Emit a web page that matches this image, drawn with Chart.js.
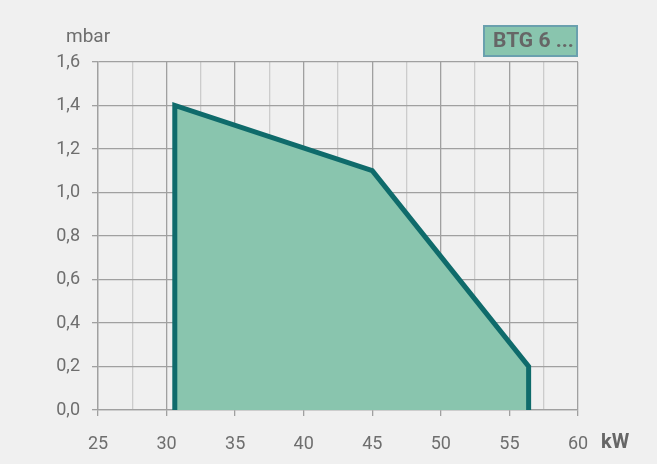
<!DOCTYPE html>
<html>
<head>
<meta charset="utf-8">
<script src="https://cdn.jsdelivr.net/npm/chart.js@4/dist/chart.umd.min.js"></script>
<style>
  html, body { margin: 0; padding: 0; background: #f0f0f0; }
  #wrap { width: 657px; height: 464px; position: relative; }
</style>
</head>
<body>
<div id="wrap"><canvas id="myChart" width="657" height="464"></canvas></div>
<script>
// Arbeitsfeld (kW / mbar)
const powerKW = [30.6, 30.6, 45, 56.4, 56.4];
const pressureMbar = [0, 1.4, 1.1, 0.2, 0];
const seriesName = "BTG 6 ...";
const xTicks = [25, 30, 35, 40, 45, 50, 55, 60];
const yTicks = [0, 0.2, 0.4, 0.6, 0.8, 1.0, 1.2, 1.4, 1.6];
const xUnit = "kW";
const yUnit = "mbar";

const textColor = "#6e6e6e";
const lineColor = "#0f6b6b";
const fillColor = "#89c5ae";

const isMajor = (v, step) => Math.abs(v / step - Math.round(v / step)) < 1e-6;

// Beschriftungen + Legendenbox
const extras = {
  id: "extras",
  afterDraw(chart) {
    const c = chart.ctx;
    c.save();
    c.fillStyle = textColor;
    c.font = "19px Roboto";
    c.textBaseline = "alphabetic";
    c.fillText(yUnit, 66, 42);
    c.font = "bold 20px Roboto";
    c.fillStyle = "#666";
    c.fillText(xUnit, 601, 448);

    c.fillStyle = fillColor;
    c.fillRect(483, 25, 95, 32);
    c.strokeStyle = "#6aa0ae";
    c.lineWidth = 2;
    c.strokeRect(484, 26, 93, 30);
    c.fillStyle = "#666";
    c.font = "bold 21px Roboto";
    c.textBaseline = "middle";
    c.fillText(seriesName, 493, 42);
    c.restore();
  }
};

new Chart(document.getElementById("myChart"), {
  type: "line",
  data: {
    datasets: [{
      label: seriesName,
      data: powerKW.map((x, i) => ({ x: x, y: pressureMbar[i] })),
      borderColor: lineColor,
      backgroundColor: fillColor,
      borderWidth: 5,
      fill: "origin",
      pointRadius: 0,
      tension: 0,
      borderCapStyle: "round",
      borderJoinStyle: "miter"
    }]
  },
  options: {
    responsive: false,
    animation: false,
    layout: { padding: { left: 0, top: 62, right: 79, bottom: 0 } },
    plugins: { legend: { display: false }, tooltip: { enabled: false } },
    scales: {
      x: {
        type: "linear",
        min: xTicks[0],
        max: xTicks[xTicks.length - 1],
        afterFit(s) { s.height = 54; },
        ticks: {
          stepSize: 2.5,
          color: textColor,
          font: { family: "Roboto", size: 18 },
          padding: 18,
          maxRotation: 0,
          callback: v => xTicks.includes(v) ? String(v) : ""
        },
        grid: {
          color: ctx => isMajor(ctx.tick.value, 5) ? "#a0a0a0" : "#cccccc",
          tickColor: ctx => isMajor(ctx.tick.value, 5) ? "#a0a0a0" : "rgba(0,0,0,0)",
          tickLength: 6,
          lineWidth: 1.3
        },
        border: { color: "#a0a0a0", width: 1.3 }
      },
      y: {
        min: yTicks[0],
        max: yTicks[yTicks.length - 1],
        afterFit(s) { s.width = 98; },
        ticks: {
          stepSize: 0.1,
          color: textColor,
          font: { family: "Roboto", size: 18 },
          padding: 12,
          callback: v => yTicks.some(t => Math.abs(t - v) < 1e-6) ? v.toFixed(1).replace(".", ",") : ""
        },
        grid: {
          color: ctx => isMajor(ctx.tick.value, 0.2) ? "#a0a0a0" : "#cccccc",
          tickColor: ctx => isMajor(ctx.tick.value, 0.2) ? "#a0a0a0" : "rgba(0,0,0,0)",
          tickLength: 6,
          lineWidth: 1.3
        },
        border: { color: "#a0a0a0", width: 1.3 }
      }
    }
  },
  plugins: [extras]
});
</script>
</body>
</html>
